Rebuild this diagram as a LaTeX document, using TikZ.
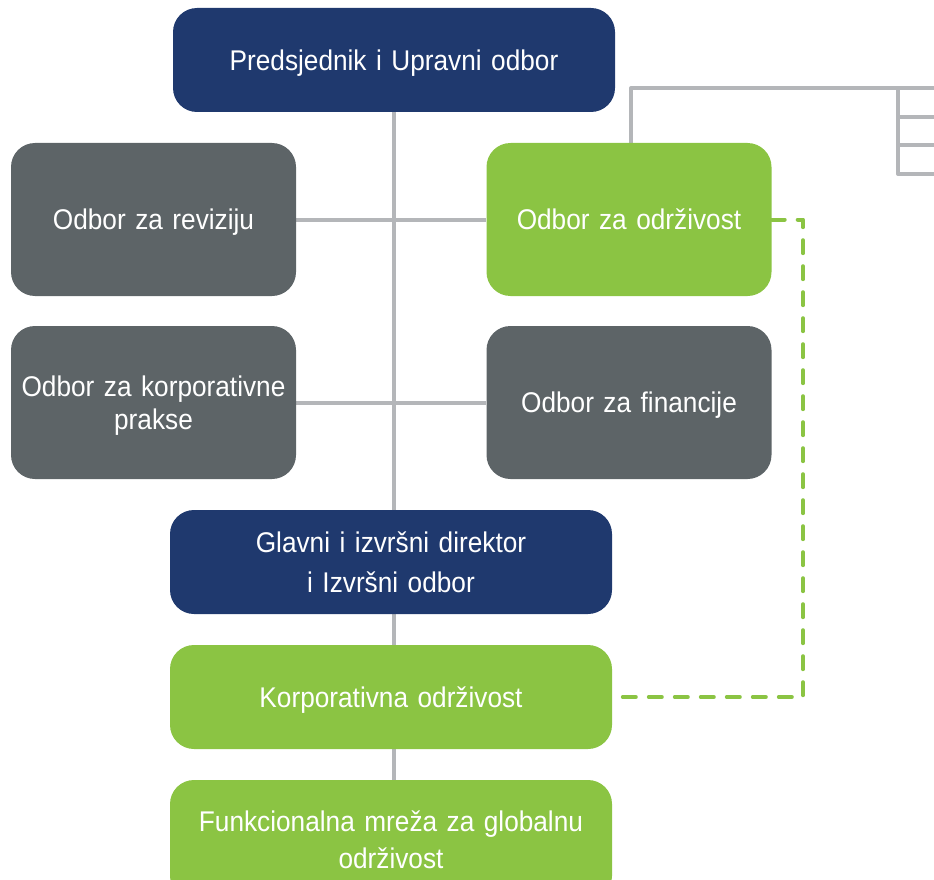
\documentclass[tikz,border=0pt]{standalone}
\usepackage{fontspec}
\setmainfont{Liberation Sans}
\newfontfamily\boxfont[FakeStretch=0.92,WordSpace=0.75]{Liberation Sans}
\usetikzlibrary{backgrounds}
\definecolor{navy}{HTML}{1F396E}
\definecolor{boxgray}{HTML}{5D6467}
\definecolor{lgreen}{HTML}{8BC443}
\definecolor{linegray}{HTML}{B4B6B9}
\begin{document}
\begin{tikzpicture}[x=1pt,y=-1pt,
  box/.style={rounded corners=24pt, inner sep=0pt, align=center, text=white,
    font=\boxfont\fontsize{28.5}{35}\selectfont},
  wide/.style={box, minimum width=442pt, minimum height=104pt, text width=430pt},
  small/.style={box, minimum width=285pt, minimum height=153pt, text width=280pt},
  oneline/.style={text height=20.4pt, text depth=0pt},
  twoline/.style={text height=20.4pt, text depth=#1pt,
    font=\boxfont\fontsize{28.5}{#1}\selectfont},
  conn/.style={draw=linegray, line width=4pt, line join=round},
  dashline/.style={draw=lgreen, line width=4pt, line cap=round, line join=round, dash pattern=on 13pt off 13pt}]
\useasboundingbox (0,0) rectangle (934,880);
\clip (0,0) rectangle (934,880);

\node[wide, oneline, fill=navy] (top) at (394,60) {Predsjednik i Upravni odbor};
\node[small, oneline, fill=boxgray] (rev) at (153.5,219.5) {Odbor za reviziju};
\node[small, oneline, fill=lgreen] (odr) at (629,219.5) {Odbor za održivost};
\node[small, twoline=33, fill=boxgray] (korp) at (153.5,402.5) {Odbor za korporativne\\prakse};
\node[small, oneline, fill=boxgray] (fin) at (629,402.5) {Odbor za financije};
\node[wide, twoline=40, fill=navy] (glav) at (391,562) {Glavni i izvršni direktor\\i Izvršni odbor};
\node[wide, oneline, fill=lgreen] (ko) at (391,697) {Korporativna održivost};
\node[wide, twoline=37, fill=lgreen, minimum height=120pt] (funk) at (391,840) {Funkcionalna mreža za globalnu\\održivost};

\coordinate (dc) at (803,0);
\coordinate (rt1) at (934,88);
\coordinate (bx) at (898,88);
\coordinate (r2) at (934,117);
\coordinate (r3) at (934,145);
\coordinate (r4) at (934,174);

\begin{scope}[on background layer]
  \draw[conn] (top.south) -- (top.south |- funk.north);
  \draw[conn] (rev.east) -- (odr.west);
  \draw[conn] (korp.east) -- (fin.west);
  \draw[conn] ([xshift=2pt]odr.north) |- (rt1);
  \draw[conn] (bx) |- (r4);
  \draw[conn] (bx |- r2) -- (r2);
  \draw[conn] (bx |- r3) -- (r3);
  \draw[dashline] (odr.east) -- (odr.east -| dc) -- (ko.east -| dc) -- (ko.east);
\end{scope}
\end{tikzpicture}
\end{document}
